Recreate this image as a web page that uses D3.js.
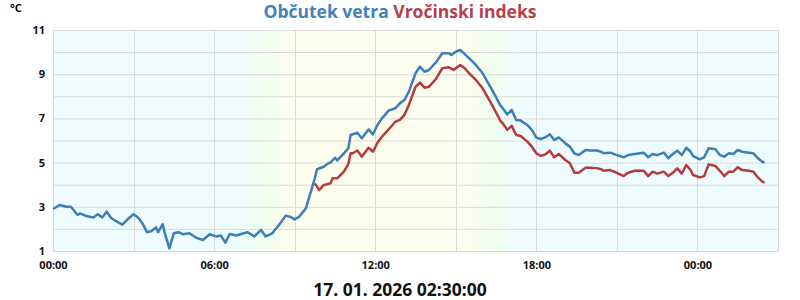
<!DOCTYPE html>
<html lang="sl">
<head>
<meta charset="UTF-8">
<title>Občutek vetra / Vročinski indeks</title>
<script src="https://cdn.jsdelivr.net/npm/d3@7"></script>
<style>
  body { margin: 0; background: #fff; }
  svg text { font-family: "Open Sans", "Noto Sans", sans-serif; font-weight: bold; }
</style>
</head>
<body>
<div id="chart"></div>
<script>
// minutes from 16. 01. 2026 00:00
const windMin = [0,15,30,40,55,60,75,90,100,110,120,130,140,155,165,180,190,200,210,220,230,235,245,250,260,270,280,290,305,320,335,350,365,375,385,395,410,420,435,450,465,475,490,505,520,530,540,550,565,575,585,590,605,615,620,630,635,650,660,665,680,690,705,715,725,735,750,765,775,785,795,810,820,830,840,855,870,885,890,900,910,920,930,945,960,975,985,1000,1005,1015,1025,1035,1045,1060,1070,1080,1090,1100,1110,1120,1130,1145,1155,1165,1175,1190,1200,1215,1225,1230,1245,1260,1275,1285,1300,1320,1330,1340,1350,1365,1375,1385,1395,1405,1415,1425,1430,1445,1455,1465,1480,1490,1500,1510,1520,1530,1540,1555,1565,1575,1585,1590];
const windVal = [2.9,3.08,3.0,3.0,2.63,2.7,2.58,2.52,2.66,2.52,2.78,2.49,2.36,2.19,2.4,2.66,2.52,2.25,1.85,1.9,2.07,1.85,2.21,1.8,1.12,1.8,1.85,1.76,1.8,1.6,1.5,1.76,1.66,1.7,1.38,1.77,1.7,1.77,1.85,1.66,1.95,1.66,1.8,2.18,2.6,2.55,2.43,2.55,2.93,3.61,4.29,4.7,4.81,4.97,5.0,5.22,5.1,5.42,5.65,6.25,6.35,6.1,6.5,6.28,6.7,7.0,7.35,7.46,7.68,7.83,8.2,9.04,9.34,9.11,9.19,9.52,9.95,9.95,9.87,10.02,10.1,9.91,9.72,9.42,9.04,8.51,8.14,7.58,7.46,7.18,7.38,6.93,6.9,6.7,6.48,6.13,6.07,6.14,6.28,6.02,6.14,5.87,5.72,5.42,5.34,5.57,5.55,5.55,5.49,5.42,5.45,5.34,5.24,5.34,5.39,5.45,5.24,5.39,5.34,5.45,5.2,5.39,5.54,5.34,5.67,5.49,5.3,5.15,5.24,5.65,5.6,5.34,5.27,5.42,5.39,5.57,5.49,5.45,5.42,5.2,5.04,5.0];

const heatMin = [585,595,605,620,625,635,650,660,665,670,680,690,705,715,725,735,750,765,775,785,795,810,820,830,840,855,870,885,895,910,920,930,945,960,975,985,1000,1005,1015,1025,1035,1045,1060,1070,1080,1090,1100,1110,1120,1130,1145,1155,1165,1175,1190,1200,1215,1225,1230,1245,1260,1275,1285,1300,1320,1330,1340,1350,1365,1375,1385,1395,1405,1415,1425,1430,1445,1455,1465,1480,1490,1500,1510,1520,1530,1540,1555,1565,1575,1585,1590];
const heatVal = [4.06,3.76,3.99,4.06,4.29,4.29,4.59,4.94,5.42,5.42,5.55,5.27,5.67,5.49,5.9,6.17,6.5,6.85,6.93,7.15,7.6,8.43,8.62,8.39,8.43,8.77,9.27,9.31,9.19,9.42,9.27,9.04,8.74,8.36,7.83,7.46,6.88,6.78,6.48,6.66,6.25,6.2,5.95,5.72,5.42,5.3,5.37,5.54,5.24,5.39,5.12,4.97,4.54,4.54,4.77,4.77,4.75,4.7,4.63,4.66,4.54,4.39,4.54,4.63,4.63,4.39,4.59,4.5,4.59,4.39,4.54,4.74,4.5,4.89,4.66,4.44,4.33,4.39,4.92,4.85,4.63,4.39,4.59,4.59,4.79,4.66,4.63,4.59,4.33,4.14,4.1];

const xTickMin = [0, 360, 720, 1080, 1440];
const yTickVal = [1, 3, 5, 7, 9, 11];
// day / night shading (minutes): night, dawn, day, day, dusk, night
const shadeMin = [420, 465, 520, 925, 990, 1035];

const W = 800, H = 300;
const m = { top: 30, right: 22, bottom: 49, left: 53 };

const svg = d3.select("#chart").append("svg")
  .attr("width", W).attr("height", H);

const x = d3.scaleLinear().domain([0, 1620]).range([m.left, W - m.right]);
const y = d3.scaleLinear().domain([1, 11]).range([H - m.bottom, m.top]);

const grad = svg.append("defs").append("linearGradient")
  .attr("id", "sky").attr("gradientUnits", "userSpaceOnUse")
  .attr("x1", x(0)).attr("x2", x(1620)).attr("y1", 0).attr("y2", 0);
const night = "#eefcfd", dawn = "#effef0", day = "#fdfeee";
const shadeCol = [night, dawn, day, day, dawn, night];
shadeMin.forEach((t, i) => {
  grad.append("stop").attr("offset", t / 1620).attr("stop-color", shadeCol[i]);
});

svg.append("rect")
  .attr("x", x(0)).attr("y", y(11))
  .attr("width", x(1620) - x(0)).attr("height", y(1) - y(11))
  .attr("fill", "url(#sky)");

// grid
svg.append("g").selectAll("line")
  .data(d3.range(1, 12))
  .join("line")
  .attr("x1", x(0)).attr("x2", x(1620))
  .attr("y1", d => y(d) + 0.5).attr("y2", d => y(d) + 0.5)
  .attr("stroke", "#d9d9d9");
svg.append("g").selectAll("line")
  .data(d3.range(0, 1621, 180))
  .join("line")
  .attr("x1", d => Math.round(x(d)) + 0.5).attr("x2", d => Math.round(x(d)) + 0.5)
  .attr("y1", y(11)).attr("y2", y(1))
  .attr("stroke", "#d9d9d9");

// axes
const fmt = t => d3.format("02")(Math.floor(t / 60) % 24) + ":" + d3.format("02")(t % 60);
const xAxis = svg.append("g")
  .attr("transform", `translate(0,${y(1)})`)
  .call(d3.axisBottom(x).tickValues(xTickMin).tickFormat(fmt).tickSize(0).tickPadding(10));
const yAxis = svg.append("g")
  .attr("transform", `translate(${m.left},0)`)
  .call(d3.axisLeft(y).tickValues(yTickVal).tickFormat(d3.format("d")).tickSize(0).tickPadding(8));
[xAxis, yAxis].forEach(a => {
  a.select(".domain").remove();
  a.selectAll("text").attr("font-size", 11).attr("fill", "#111")
    .attr("font-family", "'Open Sans', sans-serif").attr("font-weight", "bold");
});

svg.append("text").attr("x", 10).attr("y", 12)
  .attr("font-size", 11).text("°C");

// lines
const line = d3.line().x(d => x(d[0])).y(d => y(d[1]));
svg.append("path")
  .datum(d3.zip(heatMin, heatVal))
  .attr("d", line).attr("fill", "none")
  .attr("stroke", "#b33a3d").attr("stroke-width", 2.5).attr("stroke-linejoin", "round");
svg.append("path")
  .datum(d3.zip(windMin, windVal))
  .attr("d", line).attr("fill", "none")
  .attr("stroke", "#3d7db8").attr("stroke-width", 2.5).attr("stroke-linejoin", "round");

// title
const title = svg.append("text").attr("x", W / 2).attr("y", 18)
  .attr("text-anchor", "middle").attr("font-size", 17.5);
title.append("tspan").attr("fill", "#4281ba").text("Občutek vetra ");
title.append("tspan").attr("fill", "#b5414a").text("Vročinski indeks");

svg.append("text").attr("x", W / 2).attr("y", 296)
  .attr("text-anchor", "middle").attr("font-size", 17.5).attr("fill", "#111")
  .text("17. 01. 2026 02:30:00");
</script>
</body>
</html>
